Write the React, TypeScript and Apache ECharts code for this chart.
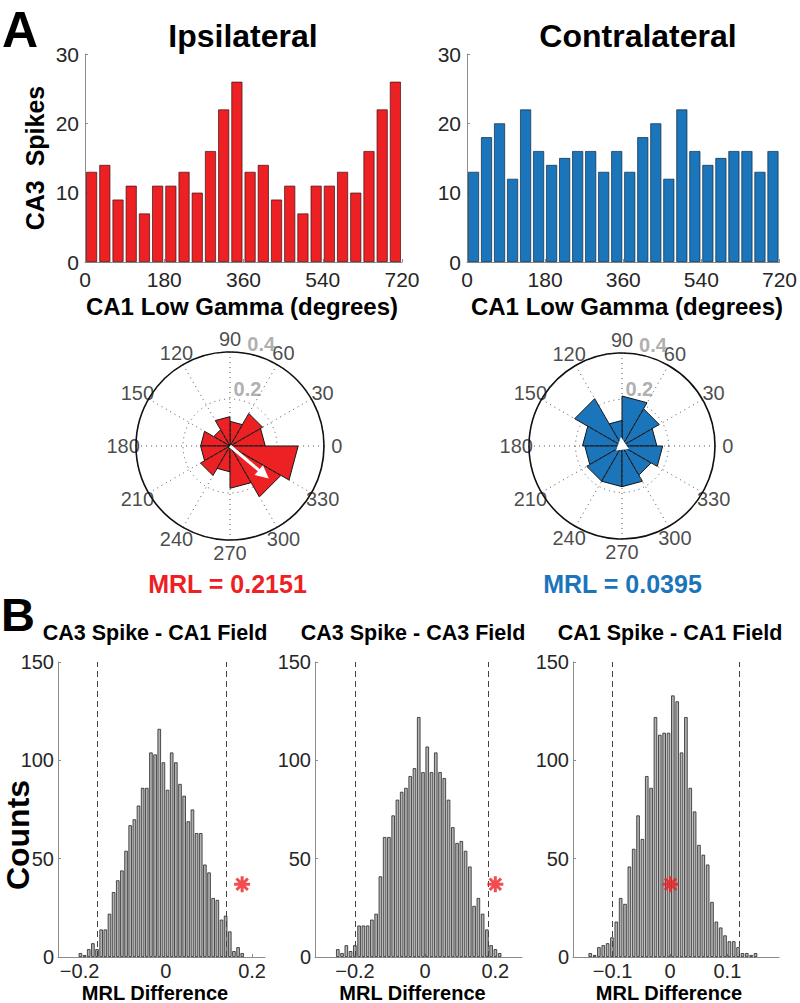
import React, { useEffect, useRef } from 'react';
import * as echarts from 'echarts';

// ---------- data ----------
const phaseTicks = [0, 180, 360, 540, 720];
const phaseBinWidth = 30;
const ipsiCounts = [13, 14, 9, 11, 7, 11, 11, 13, 10, 16, 22, 26, 13, 14, 9, 11, 7, 11, 11, 13, 10, 16, 22, 26];
const contraCounts = [13, 18, 20, 12, 22, 16, 14, 15, 16, 16, 13, 16, 13, 18, 20, 12, 22, 16, 14, 15, 16, 16, 13, 16];

const roseBinWidth = 30;
const ipsiRose = [0.15, 0.16, 0.105, 0.125, 0.08, 0.125, 0.125, 0.145, 0.11, 0.18, 0.25, 0.29];
const contraRose = [0.15, 0.185, 0.215, 0.11, 0.235, 0.17, 0.16, 0.175, 0.175, 0.175, 0.145, 0.175];
const angleLabels = [0, 30, 60, 90, 120, 150, 180, 210, 240, 270, 300, 330];
const rhoTicks = [0.2, 0.4];
const ipsiMRL = 0.2151;
const ipsiMeanAngle = 320;
const contraMRL = 0.0395;
const contraMeanAngle = 97;

const hist1Title = 'CA3 Spike - CA1 Field';
const hist1Start = -0.198;
const hist1Step = 0.00962;
const hist1Counts = [2, 1, 4, 7, 4, 14, 14, 22, 33, 39, 44, 54, 67, 70, 77, 86, 86, 104, 103, 116, 99, 85, 104, 99, 88, 82, 69, 75, 63, 63, 47, 43, 30, 29, 19, 21, 13, 3, 5, 2];
const hist1Thresholds = [-0.161, 0.145];
const hist1Observed = [0.177, 37];
const hist1Ticks = [-0.2, 0, 0.2];

const hist2Title = 'CA3 Spike - CA3 Field';
const hist2Start = -0.249;
const hist2Step = 0.01214;
const hist2Counts = [4, 2, 6, 3, 6, 16, 16, 16, 19, 22, 41, 61, 61, 72, 80, 84, 86, 92, 96, 122, 94, 107, 94, 104, 94, 91, 80, 66, 58, 59, 54, 46, 26, 30, 22, 14, 6, 4, 2];
const hist2Thresholds = [-0.197, 0.176];
const hist2Observed = [0.2, 37];
const hist2Ticks = [-0.2, 0, 0.2];

const hist3Title = 'CA1 Spike - CA1 Field';
const hist3Start = -0.139;
const hist3Step = 0.00758;
const hist3Counts = [2, 1, 5, 6, 7, 10, 18, 30, 27, 46, 55, 72, 60, 92, 86, 122, 113, 114, 114, 133, 130, 104, 122, 86, 74, 57, 52, 47, 28, 18, 15, 11, 8, 8, 5, 2, 2, 1, 2];
const hist3Thresholds = [-0.1, 0.116];
const hist3Observed = [0.001, 37];
const hist3Ticks = [-0.1, 0, 0.1];

const countTicksInterval = 50;

// ---------- styles ----------
const FONT = '"Liberation Sans", Arial, Helvetica, sans-serif';
const RED = '#ED2024';
const BLUE = '#1B75BB';
const GREY_BAR = '#b2b2b2';
const AXIS_GREY = '#8c8c8c';
const LABEL_COLOR = '#262626';
const ASTERISK = 'path://M0,7L14,7M7,0L7,14M2,2L12,12M2,12L12,2';

const fmtSigned = (v: number) => (v < 0 ? '\u2212' + String(Math.abs(v)) : String(v));

function axisBase(fontSize: number, margin: number) {
  return {
    axisLine: { show: true, onZero: false, lineStyle: { color: AXIS_GREY, width: 1 } },
    axisTick: { show: true, inside: true, length: 3, lineStyle: { color: AXIS_GREY } },
    splitLine: { show: false },
    axisLabel: { fontSize, color: LABEL_COLOR, fontFamily: FONT, margin },
  };
}

function text(x: number, y: number, t: string, size: number, color = '#000', extra: any = {}) {
  return {
    type: 'text',
    x,
    y,
    rotation: extra.rotation || 0,
    silent: true,
    style: {
      text: t,
      fill: color,
      font: `bold ${size}px ${FONT}`,
      align: extra.align || 'center',
      verticalAlign: 'middle',
      textAlign: extra.align || 'center',
      textVerticalAlign: 'middle',
    },
  };
}

function roseSeries(polarIndex: number, radii: number[], color: string) {
  return {
    type: 'custom',
    coordinateSystem: 'polar',
    polarIndex,
    silent: true,
    encode: { radius: 0, angle: 1 },
    data: radii.map((r, i) => [r, i * roseBinWidth, (i + 1) * roseBinWidth]),
    renderItem: (params: any, api: any) => {
      const r = api.value(0);
      const a0 = api.value(1);
      const a1 = api.value(2);
      const c = api.coord([0, a0]);
      const p0 = api.coord([r, a0]);
      const p1 = api.coord([r, a1]);
      return {
        type: 'polygon',
        shape: { points: [c, p0, p1] },
        style: { fill: color, stroke: '#151515', lineWidth: 1 },
      };
    },
  };
}

function arrowSeries(polarIndex: number, mrl: number, angle: number) {
  return {
    type: 'custom',
    coordinateSystem: 'polar',
    polarIndex,
    silent: true,
    z: 5,
    encode: { radius: 0, angle: 1 },
    data: [[mrl, angle]],
    renderItem: (params: any, api: any) => {
      const c = api.coord([0, api.value(1)]);
      const tip = api.coord([api.value(0), api.value(1)]);
      const dx = tip[0] - c[0];
      const dy = tip[1] - c[1];
      const len = Math.hypot(dx, dy) || 1;
      const ux = dx / len;
      const uy = dy / len;
      const hl = 13;
      const hw = 6.5;
      const base = [tip[0] - ux * hl, tip[1] - uy * hl];
      const left = [base[0] - uy * hw, base[1] + ux * hw];
      const right = [base[0] + uy * hw, base[1] - ux * hw];
      const children: any[] = [];
      if (len > hl) {
        children.push({
          type: 'line',
          shape: { x1: c[0], y1: c[1], x2: base[0] + ux * 2, y2: base[1] + uy * 2 },
          style: { stroke: '#ffffff', lineWidth: 3 },
        });
      }
      children.push({ type: 'polygon', shape: { points: [tip, left, right] }, style: { fill: '#ffffff' } });
      return { type: 'group', children };
    },
  };
}

function angleLabelSeries(polarIndex: number) {
  return {
    type: 'scatter',
    coordinateSystem: 'polar',
    polarIndex,
    clip: false,
    silent: true,
    symbolSize: 1,
    itemStyle: { color: 'rgba(0,0,0,0)' },
    data: angleLabels.map((a) => [0.455, a]),
    label: {
      show: true,
      position: 'inside',
      formatter: (p: any) => String(p.data[1]),
      fontSize: 20,
      color: '#1a1a1a',
      fontFamily: FONT,
    },
  };
}

function rhoLabelSeries(polarIndex: number) {
  return {
    type: 'scatter',
    coordinateSystem: 'polar',
    polarIndex,
    clip: false,
    silent: true,
    symbolSize: 1,
    itemStyle: { color: 'rgba(0,0,0,0)' },
    data: rhoTicks.map((t) => [t + 0.055, 73]),
    label: {
      show: true,
      position: 'inside',
      formatter: (p: any) => String(Math.round((p.data[0] - 0.055) * 10) / 10),
      fontSize: 20,
      fontWeight: 'bold',
      color: '#9a9a9a',
      fontFamily: FONT,
    },
  };
}

function histSeries(idx: number, start: number, step: number, counts: number[], thresholds: number[], observed: number[]) {
  return [
    {
      type: 'bar',
      xAxisIndex: idx,
      yAxisIndex: idx,
      barWidth: 3.5,
      silent: true,
      data: counts.map((c, i) => [start + i * step, c]),
      itemStyle: { color: GREY_BAR, borderColor: '#262626', borderWidth: 0.8 },
      markLine: {
        silent: true,
        symbol: 'none',
        label: { show: false },
        lineStyle: { color: '#444', type: [6, 4], width: 1 },
        data: thresholds.map((x) => ({ xAxis: x })),
      },
    },
    {
      type: 'scatter',
      xAxisIndex: idx,
      yAxisIndex: idx,
      silent: true,
      symbol: ASTERISK,
      symbolSize: 16,
      z: 5,
      data: [observed],
      itemStyle: { color: 'rgba(0,0,0,0)', borderColor: RED, borderWidth: 3 },
    },
  ];
}

function polarAxes(polarIndex: number) {
  const dotted = { color: '#555', type: [1, 4], width: 1 };
  return {
    angle: {
      polarIndex,
      type: 'value',
      min: 0,
      max: 360,
      interval: 30,
      startAngle: 0,
      clockwise: false,
      axisLine: { show: true, lineStyle: { color: '#111', width: 1.6 } },
      axisTick: { show: false },
      axisLabel: { show: false },
      splitLine: { show: true, lineStyle: dotted },
      z: 3,
    },
    radius: {
      polarIndex,
      type: 'value',
      min: 0,
      max: 0.4,
      interval: 0.2,
      axisLine: { show: false },
      axisTick: { show: false },
      axisLabel: { show: false },
      splitLine: { show: true, lineStyle: dotted },
    },
  };
}

function buildOption(): any {
  const p0 = polarAxes(0);
  const p1 = polarAxes(1);
  const topX = (gridIndex: number) => ({
    gridIndex,
    type: 'value',
    min: phaseTicks[0],
    max: phaseTicks[phaseTicks.length - 1],
    interval: phaseTicks[1] - phaseTicks[0],
    ...axisBase(21, 7),
  });
  const topY = (gridIndex: number) => ({
    gridIndex,
    type: 'value',
    min: 0,
    max: 30,
    interval: 10,
    ...axisBase(21, 6),
  });
  const botX = (gridIndex: number, min: number, max: number, ticks: number[]) => {
    const b = axisBase(20, 4);
    return {
      gridIndex,
      type: 'value',
      min,
      max,
      ...b,
      axisTick: { ...b.axisTick, customValues: ticks },
      axisLabel: { ...b.axisLabel, customValues: ticks, formatter: fmtSigned },
    };
  };
  const botY = (gridIndex: number) => ({
    gridIndex,
    type: 'value',
    min: 0,
    max: 150,
    interval: countTicksInterval,
    ...axisBase(20, 4),
  });

  return {
    animation: false,
    backgroundColor: '#ffffff',
    grid: [
      { left: 85, top: 54, width: 317, height: 208 },
      { left: 467, top: 54, width: 317, height: 208 },
      { left: 58, top: 662, width: 207, height: 295 },
      { left: 315, top: 662, width: 207, height: 295 },
      { left: 573, top: 662, width: 206, height: 295 },
    ],
    xAxis: [
      topX(0),
      topX(1),
      botX(2, -0.25, 0.23, hist1Ticks),
      botX(3, -0.314, 0.276, hist2Ticks),
      botX(4, -0.169, 0.19, hist3Ticks),
    ],
    yAxis: [topY(0), topY(1), botY(2), botY(3), botY(4)],
    polar: [
      { center: [230, 446], radius: 94 },
      { center: [622, 446], radius: 93 },
    ],
    angleAxis: [p0.angle, p1.angle],
    radiusAxis: [p0.radius, p1.radius],
    series: [
      {
        type: 'bar',
        xAxisIndex: 0,
        yAxisIndex: 0,
        barWidth: 11,
        silent: true,
        data: ipsiCounts.map((c, i) => [i * phaseBinWidth + phaseBinWidth / 2, c]),
        itemStyle: { color: RED, borderColor: '#3a1212', borderWidth: 0.7 },
      },
      {
        type: 'bar',
        xAxisIndex: 1,
        yAxisIndex: 1,
        barWidth: 11,
        silent: true,
        data: contraCounts.map((c, i) => [i * phaseBinWidth + phaseBinWidth / 2, c]),
        itemStyle: { color: BLUE, borderColor: '#0f2a40', borderWidth: 0.7 },
      },
      ...histSeries(2, hist1Start, hist1Step, hist1Counts, hist1Thresholds, hist1Observed),
      ...histSeries(3, hist2Start, hist2Step, hist2Counts, hist2Thresholds, hist2Observed),
      ...histSeries(4, hist3Start, hist3Step, hist3Counts, hist3Thresholds, hist3Observed),
      roseSeries(0, ipsiRose, RED),
      roseSeries(1, contraRose, BLUE),
      arrowSeries(0, ipsiMRL, ipsiMeanAngle),
      arrowSeries(1, contraMRL, contraMeanAngle),
      angleLabelSeries(0),
      angleLabelSeries(1),
      rhoLabelSeries(0),
      rhoLabelSeries(1),
    ],
    graphic: [
      text(2, 30, 'A', 50, '#000', { align: 'left' }),
      text(243, 35.5, 'Ipsilateral', 32),
      text(638, 35.5, 'Contralateral', 32),
      text(35, 158, 'CA3  Spikes', 25, '#000', { rotation: Math.PI / 2 }),
      text(242, 306.5, 'CA1 Low Gamma (degrees)', 24),
      text(627, 306.5, 'CA1 Low Gamma (degrees)', 24),
      text(227.5, 583.5, `MRL = ${ipsiMRL.toFixed(4)}`, 25, RED),
      text(622.5, 583.5, `MRL = ${contraMRL.toFixed(4)}`, 25, BLUE),
      text(1, 614, 'B', 47, '#000', { align: 'left' }),
      text(155, 633, hist1Title, 21.5),
      text(413, 633, hist2Title, 21.5),
      text(670, 633, hist3Title, 21.5),
      text(155, 993, 'MRL Difference', 20),
      text(412.5, 993, 'MRL Difference', 20),
      text(669, 993, 'MRL Difference', 20),
      text(18, 835, 'Counts', 32, '#000', { rotation: Math.PI / 2 }),
    ],
  };
}

export default function App() {
  const ref = useRef<HTMLDivElement>(null);
  useEffect(() => {
    if (!ref.current) return;
    const chart = echarts.init(ref.current, undefined, { renderer: 'svg' });
    chart.setOption(buildOption());
    return () => chart.dispose();
  }, []);
  return (
    <div
      ref={ref}
      style={{ position: 'absolute', left: 0, top: 0, width: 800, height: 1003, background: '#fff' }}
    />
  );
}
